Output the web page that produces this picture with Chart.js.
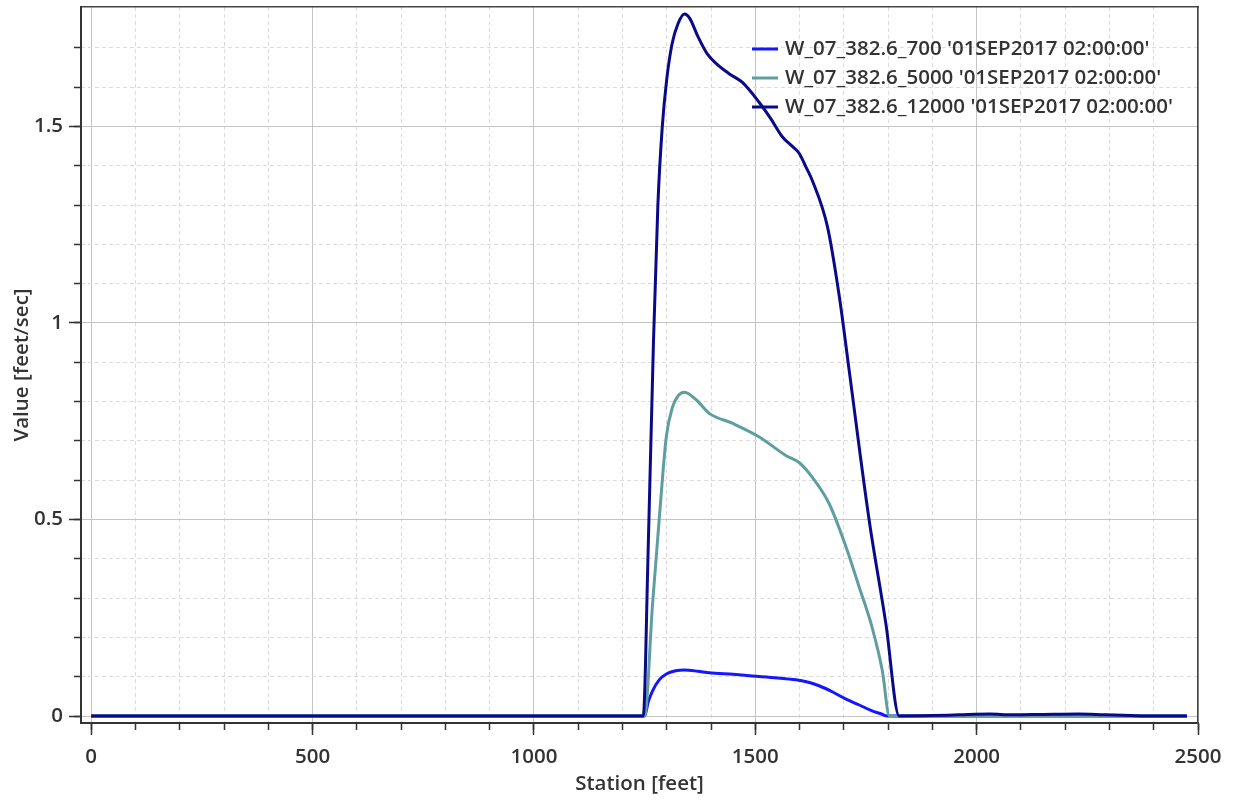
<!DOCTYPE html>
<html>
<head>
<meta charset="utf-8">
<script src="https://cdn.jsdelivr.net/npm/chart.js@4.4.1/dist/chart.umd.min.js"></script>
<style>
  html, body { margin: 0; background: #fff; }
  canvas { display: block; }
</style>
</head>
<body>
<canvas id="chart" width="1234" height="803"></canvas>
<script>
// --- data ---
const seriesLabels = [
  "W_07_382.6_700 '01SEP2017 02:00:00'",
  "W_07_382.6_5000 '01SEP2017 02:00:00'",
  "W_07_382.6_12000 '01SEP2017 02:00:00'",
];

const station700 = [0, 1250, 1258, 1268, 1283, 1299, 1320, 1340, 1370, 1396, 1450, 1493, 1550, 1592, 1620, 1644, 1675, 1705, 1735, 1764, 1785, 1798, 2475];
const value700   = [0, 0, 0.035, 0.064, 0.092, 0.107, 0.115, 0.117, 0.114, 0.110, 0.106, 0.102, 0.097, 0.092, 0.086, 0.077, 0.061, 0.043, 0.028, 0.013, 0.005, 0, 0];

const station5000 = [0, 1250, 1268, 1284, 1299, 1313, 1326, 1340, 1367, 1396, 1448, 1509, 1569, 1599, 1629, 1667, 1705, 1735, 1764, 1787, 1803, 2475];
const value5000   = [0, 0, 0.285, 0.515, 0.71, 0.786, 0.815, 0.824, 0.804, 0.77, 0.745, 0.71, 0.663, 0.645, 0.607, 0.54, 0.43, 0.327, 0.225, 0.115, 0, 0];

const station12000 = [0, 1247, 1258, 1270, 1280, 1290, 1300, 1312, 1325, 1340, 1352, 1370, 1392, 1412, 1440, 1471, 1509, 1535, 1561, 1585, 1599, 1614, 1629, 1663, 1690, 1712, 1757, 1795, 1825, 1900, 1960, 2030, 2080, 2150, 2230, 2290, 2350, 2400, 2475];
const value12000   = [0, 0, 0.42, 0.95, 1.30, 1.50, 1.62, 1.71, 1.76, 1.786, 1.775, 1.73, 1.684, 1.66, 1.635, 1.612, 1.561, 1.52, 1.474, 1.448, 1.432, 1.398, 1.362, 1.245, 1.066, 0.88, 0.50, 0.235, 0, 0.001, 0.003, 0.005, 0.003, 0.004, 0.005, 0.003, 0.001, 0, 0];

const xMajorTicks = [0, 500, 1000, 1500, 2000, 2500];
const xMinorTicks = [0, 100, 200, 300, 400, 500, 600, 700, 800, 900, 1000, 1100, 1200, 1300, 1400, 1500, 1600, 1700, 1800, 1900, 2000, 2100, 2200, 2300, 2400, 2500];
const yMajorTicks = [0, 0.5, 1, 1.5];
const yMinorTicks = [0, 0.1, 0.2, 0.3, 0.4, 0.5, 0.6, 0.7, 0.8, 0.9, 1, 1.1, 1.2, 1.3, 1.4, 1.5, 1.6, 1.7];

const X_MIN = -23, X_MAX = 2500;
const Y_MIN = -0.0178, Y_MAX = 1.804;

const INK = '#333333';
const FONT = { family: "'Open Sans', 'DejaVu Sans', sans-serif", size: 20.5, weight: '600' };

function toPoints(xs, ys) {
  return xs.map((x, i) => ({ x, y: ys[i] }));
}

function fixTicks(values) {
  return (scale) => { scale.ticks = values.map((v) => ({ value: v })); };
}

function fixSize(prop, size) {
  return (scale) => {
    scale[prop] = size;
    scale.paddingTop = 0; scale.paddingBottom = 0;
    scale.paddingLeft = 0; scale.paddingRight = 0;
  };
}

function onMajor(value, step) {
  const r = value / step;
  return Math.abs(r - Math.round(r)) < 1e-6;
}

function lineSet(label, xs, ys, color, order) {
  return {
    label, data: toPoints(xs, ys), borderColor: color, backgroundColor: color,
    borderWidth: 3, pointRadius: 0, fill: false, cubicInterpolationMode: 'monotone', order,
  };
}

// legend sits inside the plot, top right
const insideLegend = {
  id: 'insideLegend',
  afterDatasetsDraw(chart) {
    const { ctx } = chart;
    ctx.save();
    ctx.font = `${FONT.weight} ${FONT.size}px ${FONT.family}`;
    ctx.textBaseline = 'middle';
    chart.data.datasets.forEach((ds, i) => {
      const y = 49 + i * 29;
      ctx.strokeStyle = ds.borderColor;
      ctx.lineWidth = 3;
      ctx.beginPath();
      ctx.moveTo(752, y);
      ctx.lineTo(778, y);
      ctx.stroke();
      ctx.fillStyle = INK;
      ctx.fillText(ds.label, 785, y);
    });
    ctx.restore();
  },
};

const minorGrid = (step) => ({
  color: (c) => (onMajor(c.tick.value, step) ? 'rgba(0,0,0,0)' : '#dcdcdc'),
  lineWidth: 1,
  tickColor: INK,
  tickLength: 7,
  tickWidth: 1.5,
});

const plainLabel = (v) => String(Math.round(v * 10) / 10);

new Chart(document.getElementById('chart'), {
  type: 'line',
  data: {
    datasets: [
      lineSet(seriesLabels[0], station700, value700, '#1515ff', 2),
      lineSet(seriesLabels[1], station5000, value5000, '#5f9ea0', 1),
      lineSet(seriesLabels[2], station12000, value12000, '#0a0a88', 0),
    ],
  },
  plugins: [insideLegend],
  options: {
    responsive: false,
    animation: false,
    layout: { padding: 0 },
    plugins: { legend: { display: false }, tooltip: { enabled: false } },
    scales: {
      x: {
        type: 'linear', position: 'bottom', weight: 1, min: X_MIN, max: X_MAX,
        afterBuildTicks: fixTicks(xMajorTicks),
        afterFit: fixSize('height', 80),
        grid: { color: '#c4c4c4', lineWidth: 1, tickColor: INK, tickLength: 12, tickWidth: 1.5 },
        border: { color: INK, width: 2 },
        ticks: { color: INK, font: FONT, padding: 10, maxRotation: 0, autoSkip: false, callback: plainLabel },
        title: { display: true, text: 'Station [feet]', color: INK, font: FONT, padding: { top: 0, bottom: 7 } },
      },
      xMinor: {
        type: 'linear', position: 'bottom', weight: 0, min: X_MIN, max: X_MAX,
        afterBuildTicks: fixTicks(xMinorTicks),
        afterFit: fixSize('height', 0),
        grid: minorGrid(500),
        border: { display: false, dash: [4, 3] },
        ticks: { display: false },
      },
      xFrame: {
        type: 'linear', position: 'top', min: X_MIN, max: X_MAX,
        afterFit: fixSize('height', 7),
        grid: { display: false },
        border: { color: '#444444', width: 1.5 },
        ticks: { display: false },
      },
      y: {
        type: 'linear', position: 'left', weight: 1, min: Y_MIN, max: Y_MAX,
        afterBuildTicks: fixTicks(yMajorTicks),
        afterFit: fixSize('width', 81),
        grid: { color: '#c4c4c4', lineWidth: 1, tickColor: INK, tickLength: 12, tickWidth: 1.5 },
        border: { color: INK, width: 2 },
        ticks: { color: INK, font: FONT, padding: 6, callback: plainLabel },
        title: { display: true, text: 'Value [feet/sec]', color: INK, font: FONT, padding: { top: 10, bottom: 0 } },
      },
      yMinor: {
        type: 'linear', position: 'left', weight: 0, min: Y_MIN, max: Y_MAX,
        afterBuildTicks: fixTicks(yMinorTicks),
        afterFit: fixSize('width', 0),
        grid: minorGrid(0.5),
        border: { display: false, dash: [4, 3] },
        ticks: { display: false },
      },
      yFrame: {
        type: 'linear', position: 'right', min: Y_MIN, max: Y_MAX,
        afterFit: fixSize('width', 36),
        grid: { display: false },
        border: { color: '#444444', width: 1.5 },
        ticks: { display: false },
      },
    },
  },
});
</script>
</body>
</html>
